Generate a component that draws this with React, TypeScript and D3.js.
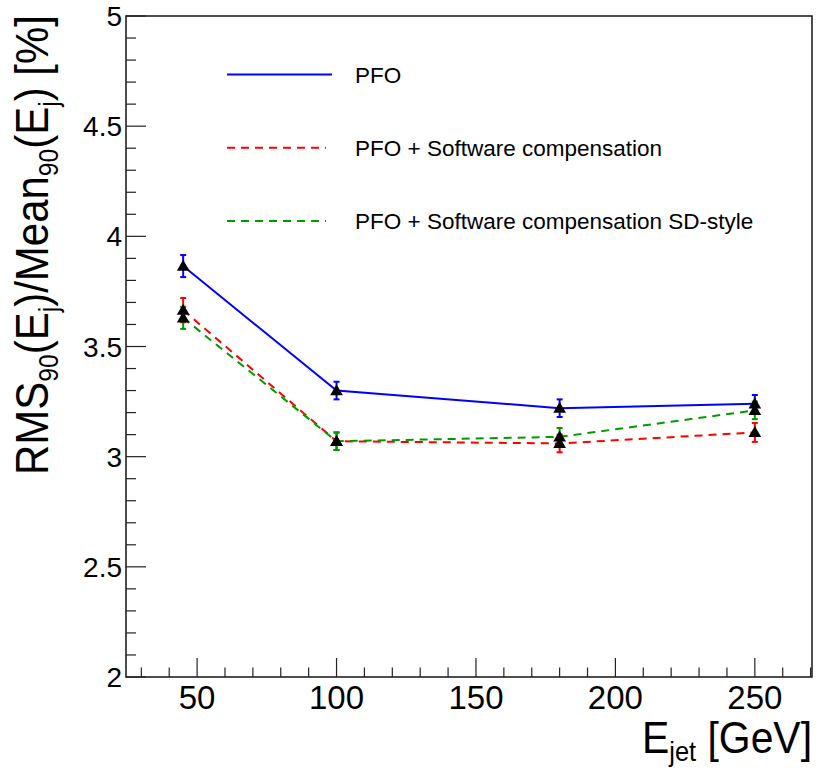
import React from "react";
import * as d3 from "d3";

const energies = [45, 100, 180, 250];
const pfo = [3.865, 3.3, 3.22, 3.24];
const pfoErr = [0.05, 0.04, 0.04, 0.04];
const sc = [3.665, 3.07, 3.06, 3.11];
const scErr = [0.055, 0.04, 0.04, 0.043];
const sd = [3.63, 3.07, 3.09, 3.21];
const sdErr = [0.05, 0.04, 0.04, 0.04];

const xTicks = [50, 100, 150, 200, 250];
const xTickLabels = ["50", "100", "150", "200", "250"];
const yTicks = [2, 2.5, 3, 3.5, 4, 4.5, 5];
const yTickLabels = ["2", "2.5", "3", "3.5", "4", "4.5", "5"];

const legendLabels = [
  "PFO",
  "PFO + Software compensation",
  "PFO + Software compensation SD-style",
];

const W = 817;
const H = 769;
const L = 126, R = 812, T = 16, B = 677;
const FONT = "'Liberation Sans', Arial, Helvetica, sans-serif";

export default function App() {
  const x = d3.scaleLinear().domain([24.5, 270.5]).range([L, R]);
  const y = d3.scaleLinear().domain([2, 5]).range([B, T]);

  const series = [
    { vals: pfo, errs: pfoErr, color: "#0000ff", dash: null as string | null },
    { vals: sc, errs: scErr, color: "#ff0000", dash: "8,6" },
    { vals: sd, errs: sdErr, color: "#009900", dash: "8,6" },
  ];

  const line = d3
    .line<[number, number]>()
    .x((d) => x(d[0]))
    .y((d) => y(d[1]));

  const xMinor = d3.range(30, 271, 10).filter((v) => v % 50 !== 0);
  const yMinor = d3.range(20, 51, 1).map((v) => v / 10).filter((v) => Math.round(v * 10) % 5 !== 0);

  const tri = d3.symbol().type(d3.symbolTriangle).size(70)();

  return (
    <svg
      width={W}
      height={H}
      style={{ position: "absolute", left: 0, top: 0, background: "#fff" }}
      fontFamily={FONT}
    >
      <rect x={0} y={0} width={W} height={H} fill="#fff" />
      {/* ticks */}
      <g stroke="#222" strokeWidth={1.2}>
        {xTicks.map((v) => (
          <line key={"xM" + v} x1={x(v)} x2={x(v)} y1={B} y2={B - 19} />
        ))}
        {xMinor.map((v) => (
          <line key={"xm" + v} x1={x(v)} x2={x(v)} y1={B} y2={B - 9.5} />
        ))}
        {yTicks.map((v) => (
          <line key={"yM" + v} x1={L} x2={L + 20} y1={y(v)} y2={y(v)} />
        ))}
        {yMinor.map((v) => (
          <line key={"ym" + v} x1={L} x2={L + 10} y1={y(v)} y2={y(v)} />
        ))}
      </g>
      {/* frame */}
      <rect x={L} y={T} width={R - L} height={B - T} fill="none" stroke="#222" strokeWidth={1.6} />

      {/* tick labels */}
      <g fontSize={33} fill="#000" textAnchor="middle">
        {xTicks.map((v, i) => (
          <text key={"xl" + v} x={x(v)} y={709}>
            {xTickLabels[i]}
          </text>
        ))}
      </g>
      <g fontSize={28} fill="#000" textAnchor="end">
        {yTicks.map((v, i) => (
          <text key={"yl" + v} x={122} y={y(v) + 10}>
            {yTickLabels[i]}
          </text>
        ))}
      </g>

      {/* axis titles */}
      <text
        x={642}
        y={753}
        fontSize={45}
        fill="#000"
        textLength={170}
        lengthAdjust="spacingAndGlyphs"
      >
        E<tspan fontSize={28} dy={8}>jet</tspan>
        <tspan dy={-8}> [GeV]</tspan>
      </text>
      <text
        transform="translate(48,475) rotate(-90)"
        fontSize={46}
        fill="#000"
        textLength={460}
        lengthAdjust="spacingAndGlyphs"
      >
        RMS<tspan fontSize={27} dy={10}>90</tspan>
        <tspan dy={-10}>(E</tspan>
        <tspan fontSize={27} dy={10}>j</tspan>
        <tspan dy={-10}>)/Mean</tspan>
        <tspan fontSize={27} dy={10}>90</tspan>
        <tspan dy={-10}>(E</tspan>
        <tspan fontSize={27} dy={10}>j</tspan>
        <tspan dy={-10}>) [%]</tspan>
      </text>

      {/* data */}
      {series.map((s, si) => {
        const pts = energies.map((e, i) => [e, s.vals[i]] as [number, number]);
        return (
          <g key={"s" + si}>
            <path
              d={line(pts) || ""}
              fill="none"
              stroke={s.color}
              strokeWidth={2}
              strokeDasharray={s.dash || undefined}
            />
            {pts.map((p, i) => {
              const cx = x(p[0]);
              const y1 = y(p[1] + s.errs[i]);
              const y2 = y(p[1] - s.errs[i]);
              return (
                <g key={"e" + i} stroke={s.color} strokeWidth={2}>
                  <line x1={cx} x2={cx} y1={y1} y2={y2} />
                  <line x1={cx - 3} x2={cx + 3} y1={y1} y2={y1} />
                  <line x1={cx - 3} x2={cx + 3} y1={y2} y2={y2} />
                </g>
              );
            })}
          </g>
        );
      })}
      {series.map((s, si) =>
        energies.map((e, i) => (
          <path
            key={"m" + si + "_" + i}
            d={tri || ""}
            transform={`translate(${x(e)},${y(s.vals[i]) + 1})`}
            fill="#000"
          />
        ))
      )}

      {/* legend */}
      {series.map((s, si) => {
        const ly = 74.5 + si * 73.3;
        return (
          <g key={"lg" + si}>
            <line
              x1={227}
              x2={s.dash ? 326 : 332}
              y1={ly}
              y2={ly}
              stroke={s.color}
              strokeWidth={2}
              strokeDasharray={s.dash || undefined}
            />
            <text x={355} y={ly + 8} fontSize={22.5} fill="#000">
              {legendLabels[si]}
            </text>
          </g>
        );
      })}
    </svg>
  );
}
